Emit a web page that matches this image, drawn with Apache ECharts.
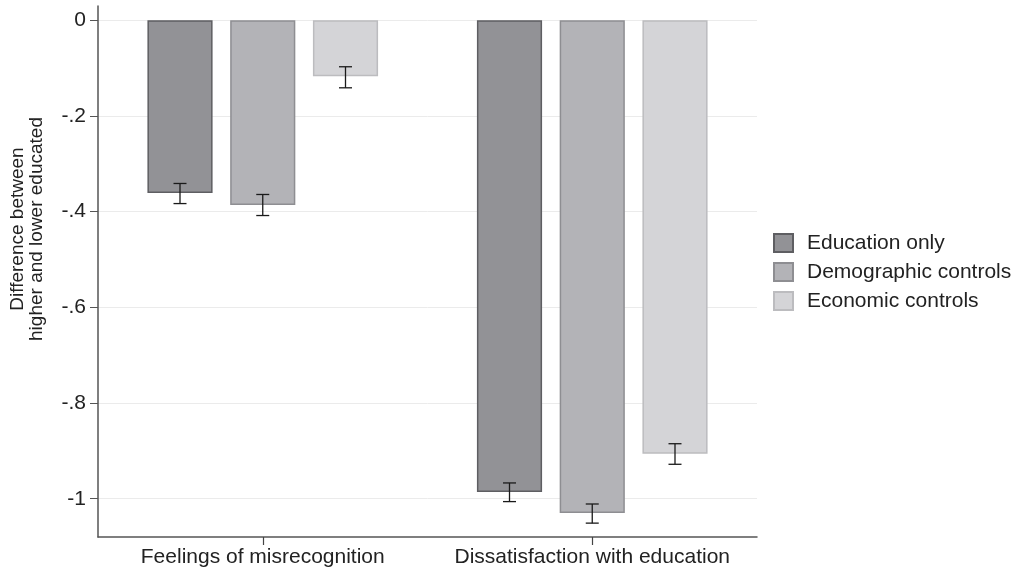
<!DOCTYPE html>
<html>
<head>
<meta charset="utf-8">
<script src="https://cdn.jsdelivr.net/npm/echarts@6/dist/echarts.min.js"></script>
<style>html,body{margin:0;padding:0;background:#fff}#c{width:1016px;height:573px}</style>
</head>
<body>
<div id="c"></div>
<script>
var categories = ['Feelings of misrecognition', 'Dissatisfaction with education'];
var seriesNames = ['Education only', 'Demographic controls', 'Economic controls'];
var educationOnly = [-0.361, -0.986];
var demographicControls = [-0.386, -1.030];
var economicControls = [-0.117, -0.906];
var educationOnlyCI = [[-0.341, -0.383], [-0.967, -1.006]];
var demographicControlsCI = [[-0.364, -0.408], [-1.011, -1.051]];
var economicControlsCI = [[-0.097, -0.141], [-0.885, -0.928]];
var yTickMin = -1, yTickMax = 0, yTickStep = 0.2;
var yAxisMin = -1.08, yAxisMax = 0.03;

var fills = ['#929296', '#b3b3b7', '#d4d4d7'];
var borders = ['#5e5e62', '#8e8e92', '#bcbcbf'];
var CAT_GAP = 0.30, BAR_GAP = 0.27, N = 3;
var FONT = 'Liberation Sans, Arial, sans-serif';

var values = [educationOnly, demographicControls, economicControls];
var cis = [educationOnlyCI, demographicControlsCI, economicControlsCI];

function fmt(v) {
  if (Math.abs(v) < 1e-9) return '0';
  var s = (Math.round(v * 100) / 100).toString();
  return s.replace(/^(-?)0\./, '$1.');
}

// layout of main plot area
var G_LEFT = 98, G_RIGHT = 259, G_TOP = 6, G_BOTTOM = 36, H = 573;
var pxPerUnit = (H - G_TOP - G_BOTTOM) / (yAxisMax - yAxisMin);
var tickTop = G_TOP + (yAxisMax - yTickMax) * pxPerUnit;
var tickBottom = G_BOTTOM + (yTickMin - yAxisMin) * pxPerUnit;

var series = [];
values.forEach(function (vals, i) {
  series.push({
    name: seriesNames[i], type: 'bar', data: vals,
    barCategoryGap: (CAT_GAP * 100) + '%', barGap: (BAR_GAP * 100) + '%',
    itemStyle: { color: fills[i], borderColor: borders[i], borderWidth: 1.5 },
    silent: true
  });
});
cis.forEach(function (ci, i) {
  series.push({
    type: 'custom', silent: true, z: 5,
    data: ci.map(function (d, k) { return [k, d[0], d[1]]; }),
    renderItem: function (params, api) {
      var band = api.size([1, 0])[0];
      var bw = band * (1 - CAT_GAP) / (N + (N - 1) * BAR_GAP);
      var off = (i - (N - 1) / 2) * bw * (1 + BAR_GAP);
      var top = api.coord([api.value(0), api.value(1)]);
      var bot = api.coord([api.value(0), api.value(2)]);
      var x = top[0] + off, cap = 6.5;
      var st = { stroke: '#1a1a1a', lineWidth: 1.3 };
      return { type: 'group', children: [
        { type: 'line', shape: { x1: x, y1: top[1], x2: x, y2: bot[1] }, style: st },
        { type: 'line', shape: { x1: x - cap, y1: top[1], x2: x + cap, y2: top[1] }, style: st },
        { type: 'line', shape: { x1: x - cap, y1: bot[1], x2: x + cap, y2: bot[1] }, style: st }
      ]};
    }
  });
});

var chart = echarts.init(document.getElementById('c'));
chart.setOption({
  animation: false,
  textStyle: { fontFamily: FONT },
  grid: [
    { left: G_LEFT, right: G_RIGHT, top: G_TOP, bottom: G_BOTTOM },
    { left: G_LEFT, right: G_RIGHT, top: tickTop, bottom: tickBottom }
  ],
  legend: {
    data: seriesNames, orient: 'vertical', left: 768, top: 227.5,
    icon: 'rect', itemWidth: 19, itemHeight: 18, itemGap: 8,
    textStyle: { fontSize: 21, lineHeight: 21, color: '#222', padding: [0, 0, 0, 9] },
    selectedMode: false
  },
  xAxis: [{
    type: 'category', data: categories, gridIndex: 0,
    axisLine: { onZero: false, lineStyle: { color: '#555', width: 1.5 } },
    axisTick: { show: true, alignWithLabel: true, interval: 0, length: 8, lineStyle: { color: '#444', width: 1.2 } },
    axisLabel: { fontSize: 21, color: '#222', margin: 10, interval: 0, hideOverlap: false },
    splitLine: { show: false }
  }, {
    type: 'value', gridIndex: 1, show: false, min: 0, max: 1
  }],
  yAxis: [{
    type: 'value', gridIndex: 0, min: yAxisMin, max: yAxisMax,
    axisLine: { show: true, onZero: false, lineStyle: { color: '#555', width: 1.5 } },
    axisTick: { show: false }, axisLabel: { show: false }, splitLine: { show: false }
  }, {
    type: 'value', gridIndex: 1, min: yTickMin, max: yTickMax, interval: yTickStep,
    axisLine: { show: false, onZero: false },
    axisTick: { show: true, length: 8, lineStyle: { color: '#555' } },
    axisLabel: { fontSize: 21, color: '#222', margin: 12, formatter: fmt },
    splitLine: { show: true, lineStyle: { color: '#ebebeb', width: 1 } }
  }],
  graphic: [{
    type: 'text', x: 27, y: 229, rotation: Math.PI / 2,
    style: { text: 'Difference between\nhigher and lower educated', fontSize: 19, fill: '#222',
      align: 'center', verticalAlign: 'middle', lineHeight: 19, fontFamily: FONT }
  }],
  series: series
});
</script>
</body>
</html>
